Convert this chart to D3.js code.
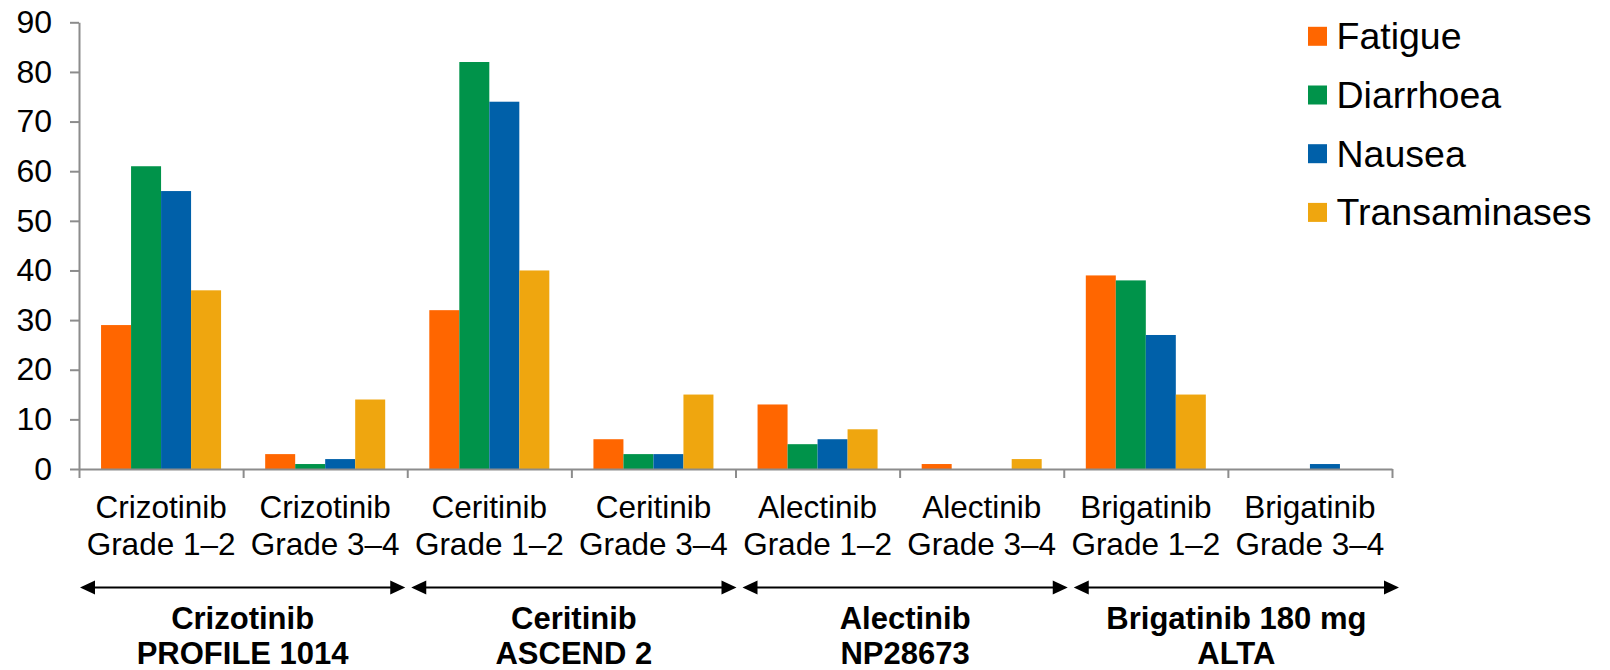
<!DOCTYPE html>
<html>
<head>
<meta charset="utf-8">
<script src="https://cdn.jsdelivr.net/npm/d3@7"></script>
<style>
  html, body { margin: 0; padding: 0; background: #ffffff; }
  svg { display: block; font-family: "Liberation Sans", Arial, Helvetica, sans-serif; }
</style>
</head>
<body>
<svg id="chart" width="1610" height="670"></svg>
<script>
// Adverse-event rates (%) per treatment arm and grade
const categories = [
  ["Crizotinib", "Grade 1–2"], ["Crizotinib", "Grade 3–4"],
  ["Ceritinib", "Grade 1–2"], ["Ceritinib", "Grade 3–4"],
  ["Alectinib", "Grade 1–2"], ["Alectinib", "Grade 3–4"],
  ["Brigatinib", "Grade 1–2"], ["Brigatinib", "Grade 3–4"]
];
const seriesNames = ["Fatigue", "Diarrhoea", "Nausea", "Transaminases"];
const fatigue       = [29, 3, 32, 6, 13, 1, 39, 0];
const diarrhoea     = [61, 1, 82, 3, 5, 0, 38, 0];
const nausea        = [56, 2, 74, 3, 6, 0, 27, 1];
const transaminases = [36, 14, 40, 15, 8, 2, 15, 0];
const seriesColors  = ["#ff6600", "#00934a", "#0060a9", "#efa60f"];
const yTicks = [0, 10, 20, 30, 40, 50, 60, 70, 80, 90];
const trialGroups = [
  ["Crizotinib", "PROFILE 1014"],
  ["Ceritinib", "ASCEND 2"],
  ["Alectinib", "NP28673"],
  ["Brigatinib 180 mg", "ALTA"]
];

const seriesValues = [fatigue, diarrhoea, nausea, transaminases];
const svg = d3.select("#chart");
const axisColor = "#8c8c8c";

const plot = { left: 79, right: 1392, top: 22.3, bottom: 469 };

const x0 = d3.scaleBand()
  .domain(d3.range(categories.length))
  .range([plot.left, plot.right])
  .padding(0);

const x1 = d3.scaleBand()
  .domain(seriesNames)
  .range([0, x0.bandwidth()])
  .paddingInner(0)
  .paddingOuter(0.735);

const y = d3.scaleLinear().domain([0, 90]).range([plot.bottom, plot.top]);

// bars
const rows = [];
categories.forEach((c, i) => {
  seriesNames.forEach((s, j) => {
    rows.push({ cat: i, series: s, color: seriesColors[j], value: seriesValues[j][i] });
  });
});
svg.append("g").selectAll("rect")
  .data(rows.filter(d => d.value > 0))
  .join("rect")
  .attr("x", d => x0(d.cat) + x1(d.series))
  .attr("width", x1.bandwidth())
  .attr("y", d => y(d.value))
  .attr("height", d => y(0) - y(d.value))
  .attr("fill", d => d.color);

// y axis
const yAxis = svg.append("g")
  .attr("transform", `translate(${plot.left},0)`)
  .call(d3.axisLeft(y).tickValues(yTicks).tickSize(9).tickSizeOuter(0).tickPadding(18));
yAxis.select(".domain").attr("stroke", axisColor).attr("stroke-width", 2);
yAxis.selectAll(".tick line").attr("stroke", axisColor).attr("stroke-width", 2);
yAxis.selectAll(".tick text")
  .attr("fill", "#000")
  .style("font-size", "32px")
  .style("font-family", "'Liberation Sans', Arial, sans-serif");

// x axis with ticks on category boundaries
const xb = d3.scaleLinear().domain([0, categories.length]).range([plot.left, plot.right]);
const xAxis = svg.append("g")
  .attr("transform", `translate(0,${plot.bottom})`)
  .call(d3.axisBottom(xb).tickValues(d3.range(categories.length + 1)).tickFormat("").tickSize(9).tickSizeOuter(0));
xAxis.select(".domain").attr("stroke", axisColor).attr("stroke-width", 2);
xAxis.selectAll(".tick line").attr("stroke", axisColor).attr("stroke-width", 2);

// category labels
const catLabels = svg.append("g")
  .selectAll("text")
  .data(categories)
  .join("text")
  .attr("text-anchor", "middle")
  .attr("fill", "#000")
  .style("font-size", "31.5px");
catLabels.each(function (d, i) {
  const t = d3.select(this);
  const cx = x0(i) + x0.bandwidth() / 2;
  t.append("tspan").attr("x", cx).attr("y", 517.5).text(d[0]);
  t.append("tspan").attr("x", cx).attr("y", 555).text(d[1]);
});

// double-headed arrows spanning each trial
const arrowScale = d3.scaleLinear().domain([0, trialGroups.length]).range([77, 1402]);
const arrowY = 587.5;
const inset = 3, headLen = 15, headHalf = 7;
const arrows = svg.append("g");
trialGroups.forEach((g, k) => {
  const xa = arrowScale(k) + inset;
  const xe = arrowScale(k + 1) - inset;
  arrows.append("line")
    .attr("x1", xa + headLen - 2).attr("x2", xe - headLen + 2)
    .attr("y1", arrowY).attr("y2", arrowY)
    .attr("stroke", "#000").attr("stroke-width", 2.2);
  arrows.append("path")
    .attr("d", `M${xa},${arrowY} L${xa + headLen},${arrowY - headHalf} L${xa + headLen},${arrowY + headHalf} Z`)
    .attr("fill", "#000");
  arrows.append("path")
    .attr("d", `M${xe},${arrowY} L${xe - headLen},${arrowY - headHalf} L${xe - headLen},${arrowY + headHalf} Z`)
    .attr("fill", "#000");

  const cx = (xa + xe) / 2;
  const t = svg.append("text")
    .attr("text-anchor", "middle")
    .attr("fill", "#000")
    .style("font-size", "31px")
    .style("font-weight", "bold");
  t.append("tspan").attr("x", cx).attr("y", 629).text(g[0]);
  t.append("tspan").attr("x", cx).attr("y", 663.5).text(g[1]);
});

// legend
const legend = svg.append("g");
seriesNames.forEach((s, j) => {
  const base = 49.3 + j * 58.7;
  legend.append("rect")
    .attr("x", 1308).attr("y", base - 22.5)
    .attr("width", 19).attr("height", 19)
    .attr("fill", seriesColors[j]);
  legend.append("text")
    .attr("x", 1336.5).attr("y", base)
    .attr("fill", "#000")
    .style("font-size", "37.5px")
    .text(s);
});
</script>
</body>
</html>
